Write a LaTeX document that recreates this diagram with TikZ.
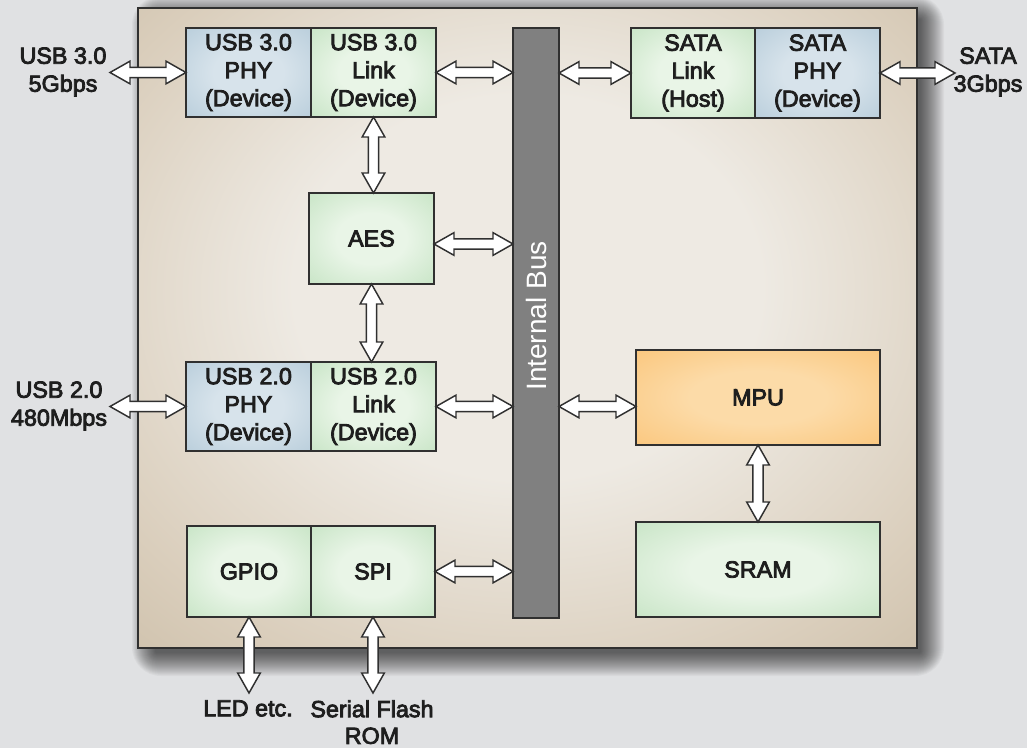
\documentclass[tikz,border=0pt]{standalone}
\usepackage{fontspec}
\setmainfont{Liberation Sans}
\newfontfamily\medfont{Liberation Sans}[FakeBold=3.5]
\usetikzlibrary{calc}
\definecolor{bg}{RGB}{224,225,227}
\definecolor{chipin}{RGB}{238,234,227}
\definecolor{chipmid}{RGB}{218,206,188}
\definecolor{chipout}{RGB}{195,180,155}
\definecolor{bluein}{RGB}{215,227,235}
\definecolor{blueout}{RGB}{160,188,206}
\definecolor{greenin}{RGB}{233,245,231}
\definecolor{greenout}{RGB}{172,215,170}
\definecolor{orin}{RGB}{252,219,168}
\definecolor{orout}{RGB}{249,182,90}
\definecolor{busgray}{RGB}{128,128,128}
\definecolor{edge}{RGB}{48,48,48}
\definecolor{txt}{RGB}{30,30,30}
\pgfdeclareradialshading{chipsh}{\pgfpoint{0bp}{4bp}}{color(0bp)=(chipin); color(15bp)=(chipin); color(31bp)=(chipmid); color(46bp)=(chipout); color(75bp)=(chipout)}
\pgfdeclareradialshading{bluesh}{\pgfpoint{0bp}{0bp}}{color(0bp)=(bluein); color(14bp)=(bluein); color(55bp)=(blueout); color(75bp)=(blueout)}
\pgfdeclareradialshading{greensh}{\pgfpoint{0bp}{0bp}}{color(0bp)=(greenin); color(14bp)=(greenin); color(55bp)=(greenout); color(75bp)=(greenout)}
\pgfdeclareradialshading{orsh}{\pgfpoint{0bp}{0bp}}{color(0bp)=(orin); color(14bp)=(orin); color(55bp)=(orout); color(75bp)=(orout)}
\tikzset{
  box/.style={draw=edge, line width=1.1pt, rectangle, inner sep=0pt, outer sep=0pt,
    align=center, text=txt, font=\medfont\fontsize{17.5}{21}\selectfont},
  bluebox/.style={box, shading=bluesh},
  greenbox/.style={box, shading=greensh},
  orangebox/.style={box, shading=orsh},
  busbox/.style={box, fill=busgray},
  lbl/.style={align=center, text=txt, inner sep=0pt, font=\medfont\fontsize{17.5}{21}\selectfont},
  fat/.style={draw=edge, fill=white, line width=1.1pt, line join=miter},
}
\newcommand{\blk}[7]{\node[#2, minimum width={(#5-#3)*0.75pt}, minimum height={(#6-#4)*0.75pt}] (#1) at ({(#3+#5)/2},{(#4+#6)/2}) {#7};}
\newcommand{\dbl}[2]{%
\draw[fat] (#1)
 -- ($(#1)!15pt!(#2)!8.5pt!-90:(#2)$)
 -- ($(#1)!15pt!(#2)!3.9pt!-90:(#2)$)
 -- ($(#2)!15pt!(#1)!3.9pt!90:(#1)$)
 -- ($(#2)!15pt!(#1)!8.5pt!90:(#1)$)
 -- (#2)
 -- ($(#2)!15pt!(#1)!8.5pt!-90:(#1)$)
 -- ($(#2)!15pt!(#1)!3.9pt!-90:(#1)$)
 -- ($(#1)!15pt!(#2)!3.9pt!90:(#2)$)
 -- ($(#1)!15pt!(#2)!8.5pt!90:(#2)$)
 -- cycle;}
\begin{document}
\begin{tikzpicture}[x=0.75pt, y=-0.75pt]
\useasboundingbox (0,0) rectangle (1027,748);
\fill[bg] (0,0) rectangle (1027,748);
% soft shadow
\foreach \i in {1,...,24}
  \fill[black, opacity=0.03, rounded corners={\i*0.9pt}] ({156-\i},{20-\i}) rectangle ({920+\i},{652+\i});
% chip
\path[draw=edge, line width=1.8pt, shading=chipsh] (138,8) rectangle (917,648);
% blocks
\blk{phy3}{bluebox}{186}{28}{311}{117}{USB 3.0\\PHY\\(Device)}
\blk{link3}{greenbox}{311}{28}{436}{117}{USB 3.0\\Link\\(Device)}
\blk{bus}{busbox}{513}{28}{559}{618}{}
\blk{slink}{greenbox}{631}{28}{755}{118}{SATA\\Link\\(Host)}
\blk{sphy}{bluebox}{755}{28}{880}{118}{SATA\\PHY\\(Device)}
\blk{aes}{greenbox}{309}{193}{434}{284}{AES}
\blk{phy2}{bluebox}{186}{362}{311}{451}{USB 2.0\\PHY\\(Device)}
\blk{link2}{greenbox}{311}{362}{436}{451}{USB 2.0\\Link\\(Device)}
\blk{gpio}{greenbox}{187}{526}{311}{617}{GPIO}
\blk{spi}{greenbox}{311}{526}{435}{617}{SPI}
\blk{mpu}{orangebox}{636}{350}{880}{445}{MPU}
\blk{sram}{greenbox}{636}{522}{880}{617}{SRAM}
\node[rotate=90, text=white, inner sep=0pt, font=\fontsize{21}{25}\selectfont] (buslbl) at (536,316) {Internal Bus};
% outside labels
\node[lbl] (u3) at (63,72) {USB 3.0\\5Gbps};
\node[lbl] (u2) at (59,406) {USB 2.0\\480Mbps};
\node[lbl] (sata) at (988,72) {SATA\\3Gbps};
\node[lbl, anchor=north] (led) at (248,700) {LED etc.};
\node[lbl, anchor=north, font=\medfont\fontsize{17.5}{20}\selectfont] (sfr) at (372,700) {Serial Flash\\ROM};
% connector end points
\coordinate (u3a) at (110,72.5);
\coordinate (u2a) at (110,406.5);
\coordinate (saa) at (955,73);
\coordinate (b1) at (link3.east -| bus.west);
\coordinate (b2) at (slink.west -| bus.east);
\coordinate (c1) at (link3.south |- aes.north);
\coordinate (a1) at ($(aes.east)+(0,5.5)$);
\coordinate (b3) at (a1 -| bus.west);
\coordinate (c2) at (aes.south |- link2.north);
\coordinate (b4) at (link2.east -| bus.west);
\coordinate (b5) at (link2.east -| bus.east);
\coordinate (m1) at (link2.east -| mpu.west);
\coordinate (c3) at (mpu.south |- sram.north);
\coordinate (b6) at (spi.east -| bus.west);
\coordinate (g1) at (249,693);
\coordinate (s1) at (373,693);
% connectors
\dbl{u3a}{phy3.west}
\dbl{link3.east}{b1}
\dbl{b2}{slink.west}
\dbl{sphy.east}{saa}
\dbl{link3.south}{c1}
\dbl{a1}{b3}
\dbl{aes.south}{c2}
\dbl{u2a}{phy2.west}
\dbl{link2.east}{b4}
\dbl{b5}{m1}
\dbl{mpu.south}{c3}
\dbl{spi.east}{b6}
\dbl{gpio.south}{g1}
\dbl{spi.south}{s1}
\end{tikzpicture}
\end{document}
